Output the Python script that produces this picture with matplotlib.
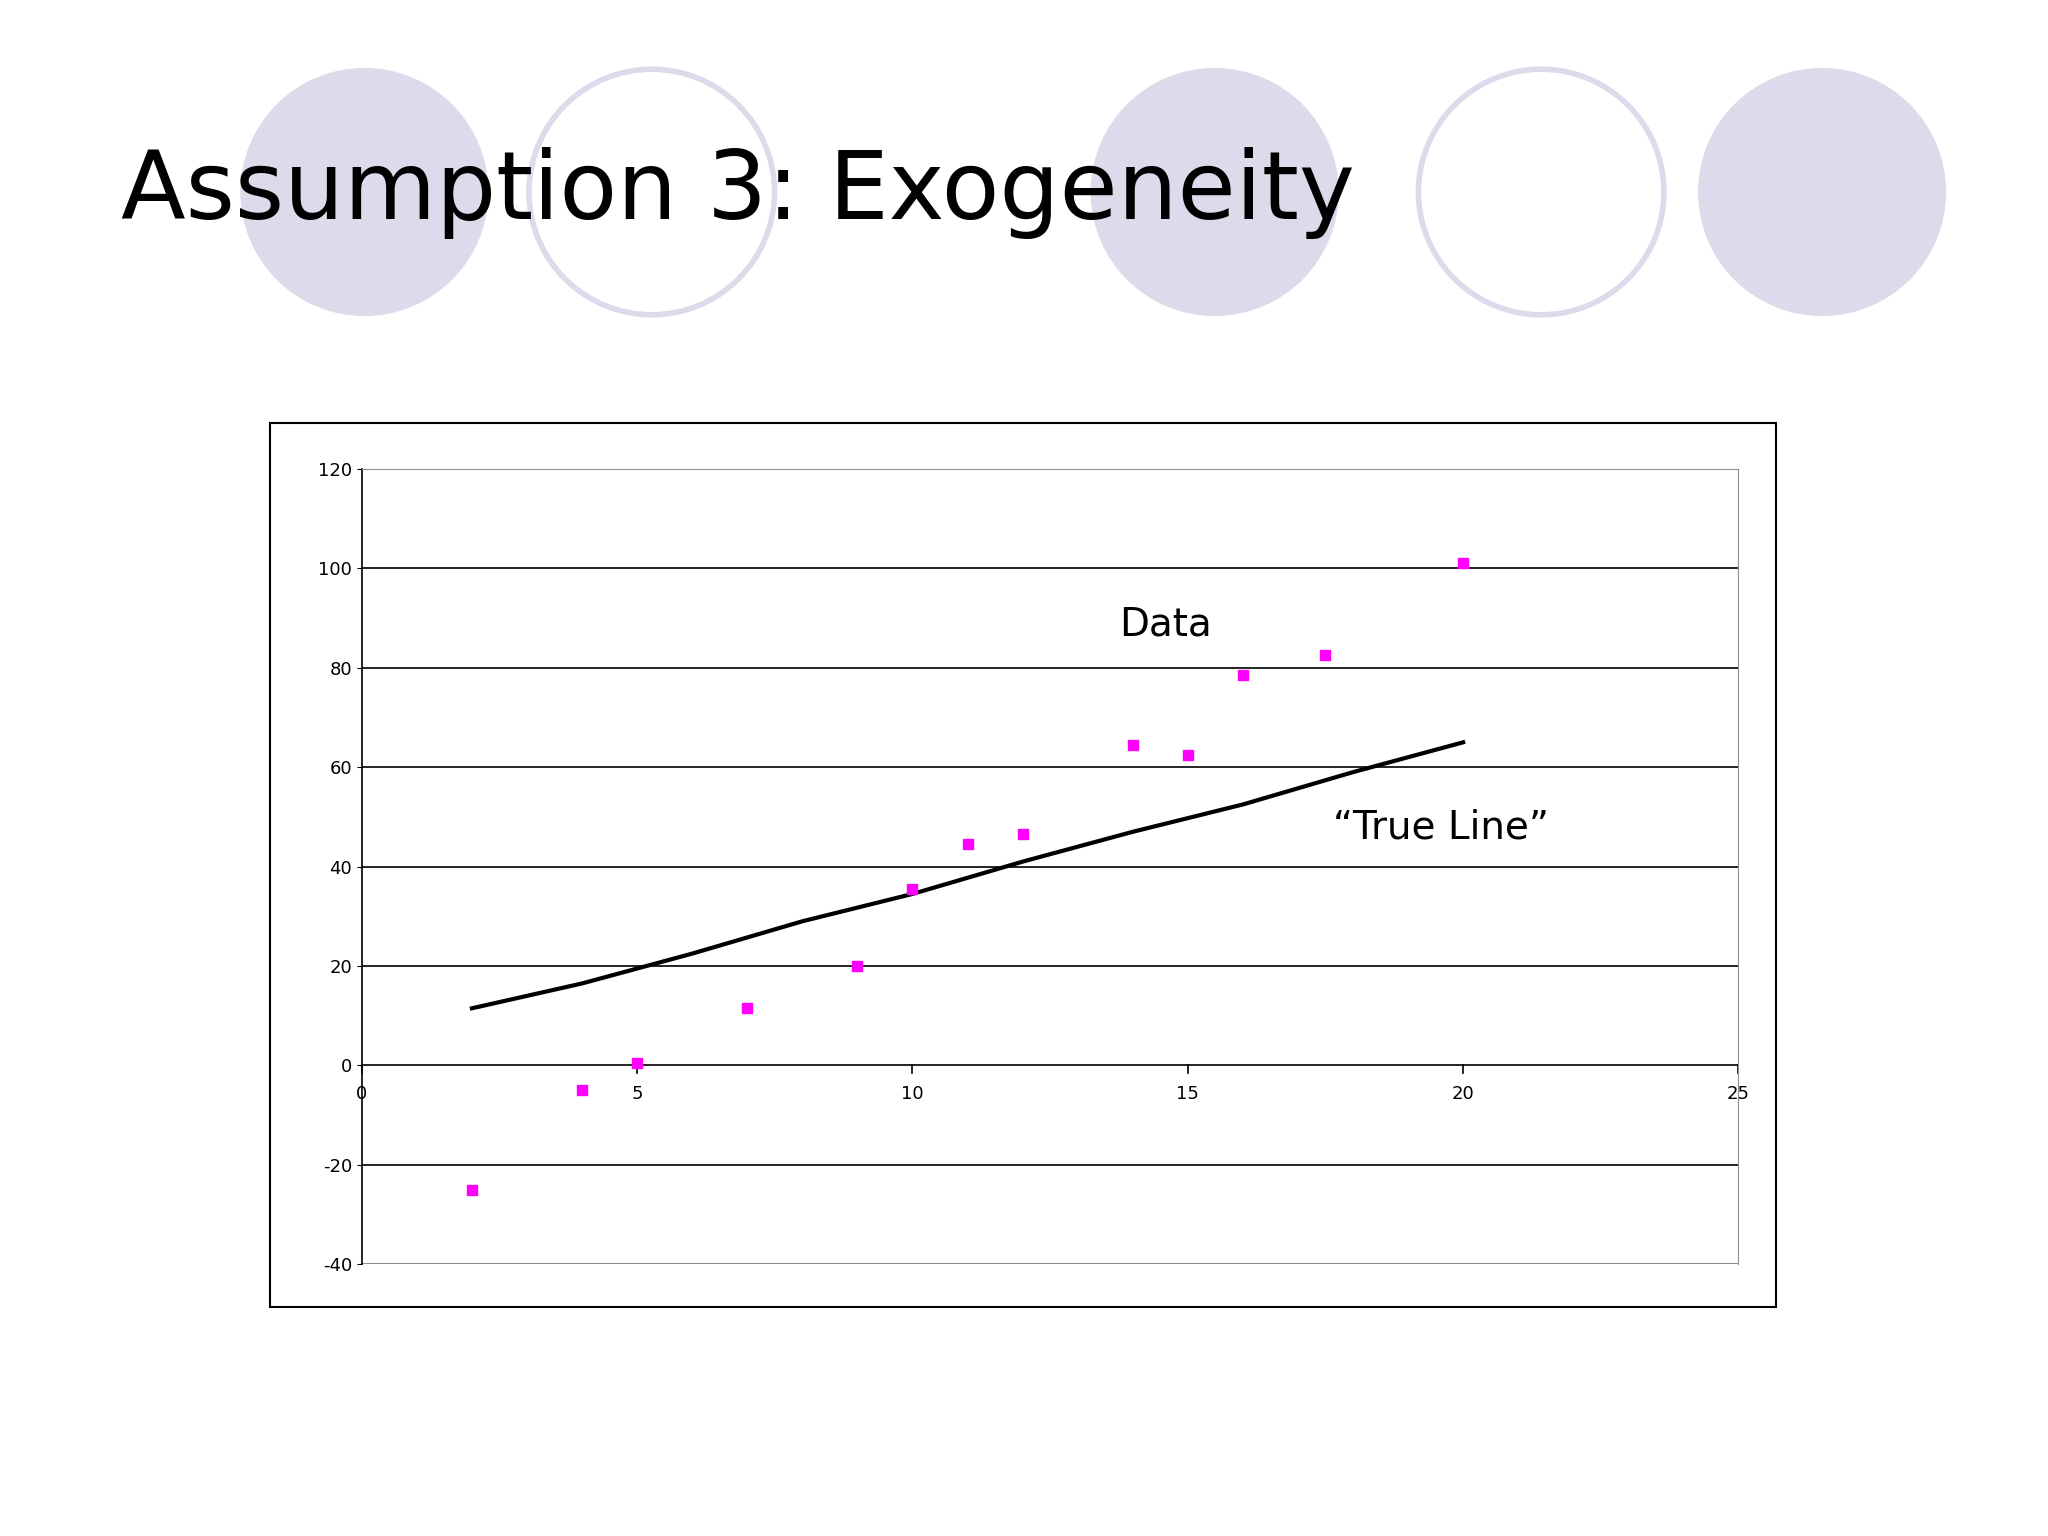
import matplotlib
matplotlib.use("Agg")
import matplotlib.pyplot as plt
from matplotlib.patches import Circle, Rectangle

data_x = [2, 4, 5, 7, 9, 10, 11, 12, 14, 15, 16, 17.5, 20]
data_y = [-25, -5, 0.5, 11.5, 20, 35.5, 44.5, 46.5, 64.5, 62.5, 78.5, 82.5, 101]
line_x = [2, 4, 6, 8, 10, 12, 14, 16, 18, 20]
line_y = [11.5, 16.5, 22.5, 29, 34.5, 41, 47, 52.5, 59, 65]
y_ticks = [-40, -20, 0, 20, 40, 60, 80, 100, 120]
x_ticks = [0, 5, 10, 15, 20, 25]

W, H = 1568, 1176
fig = plt.figure(figsize=(20.48, 15.36), dpi=100)
bg = fig.add_axes([0, 0, 1, 1])
bg.set_xlim(0, W); bg.set_ylim(H, 0); bg.axis('off')
circ = '#dcdaeb'
for cx, filled in [(279, True), (499, False), (930, True), (1180, False), (1395, True)]:
    if filled:
        bg.add_patch(Circle((cx, 147), 95, facecolor=circ, edgecolor='none'))
    else:
        bg.add_patch(Circle((cx, 147), 94, facecolor='white', edgecolor=circ, lw=4))
bg.text(93, 148, 'Assumption 3: Exogeneity', fontsize=68, va='center', ha='left', color='black')
bg.add_patch(Rectangle((207, 324), 1153, 677, fill=False, edgecolor='black', lw=1.5))

ax = fig.add_axes([277/W, 1-968/H, (1331-277)/W, (968-359)/H])
ax.set_xlim(0, 25); ax.set_ylim(-40, 120)
for y in y_ticks[1:-1]:
    ax.axhline(y, color='black', lw=1.2, zorder=1)
ax.spines['top'].set_color('#909090'); ax.spines['right'].set_color('#909090')
ax.spines['bottom'].set_visible(False)
ax.axhline(-40, color='#909090', lw=1.5)
ax.spines['left'].set_linewidth(1.2)
ax.set_yticks(y_ticks)
ax.set_yticklabels([str(v) for v in y_ticks], fontsize=13)
ax.set_xticks(x_ticks)
ax.set_xticklabels([])
ax.tick_params(axis='x', length=0)
for xv in x_ticks:
    ax.plot([xv, xv], [0, -1.5], color='black', lw=1.2, clip_on=False)
    ax.text(xv, -4, str(xv), ha='center', va='top', fontsize=13)
ax.plot(line_x, line_y, color='black', lw=3, zorder=3)
ax.scatter(data_x, data_y, marker='s', s=45, color='#ff00ff', zorder=4)
ax.text(14.6, 88.7, 'Data', fontsize=28, ha='center', va='center')
ax.text(19.6, 47.8, '\u201cTrue Line\u201d', fontsize=28, ha='center', va='center')
fig.savefig('out.png', dpi=100)
